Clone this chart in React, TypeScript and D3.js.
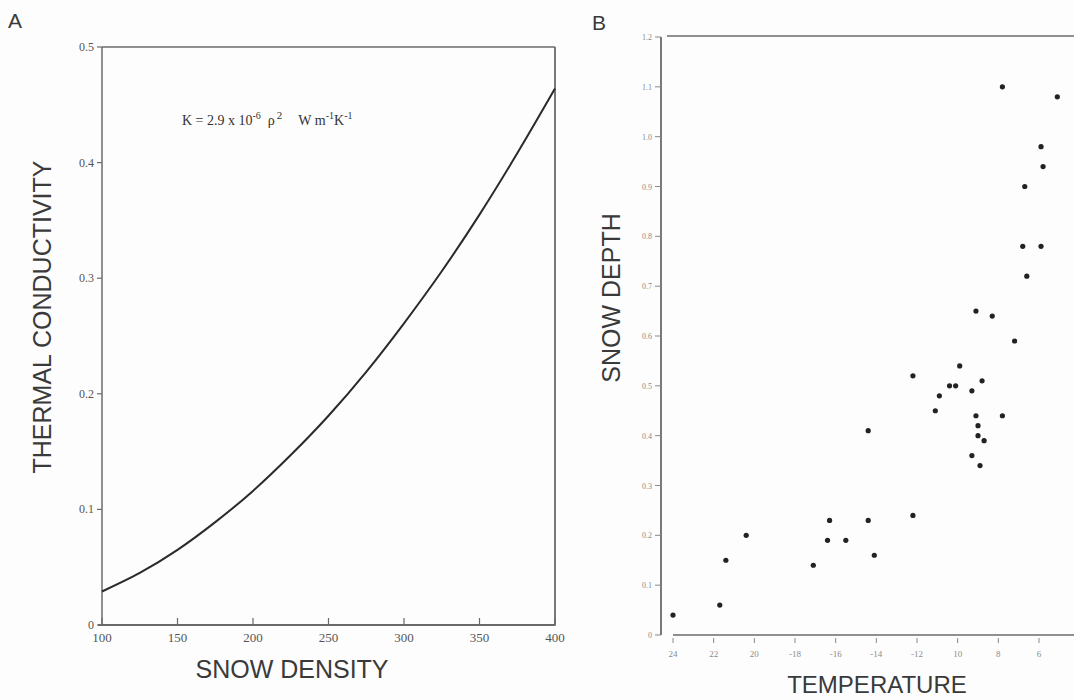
import React from 'react';
import * as d3 from 'd3';

// Panel A: thermal conductivity vs snow density
const densityValues = [100, 125, 150, 175, 200, 225, 250, 275, 300, 325, 350, 375, 400];
const conductivityValues = [0.029, 0.045, 0.065, 0.089, 0.116, 0.147, 0.181, 0.219, 0.261, 0.306, 0.355, 0.408, 0.464];
const densityTicks = [100, 150, 200, 250, 300, 350, 400];
const densityTickLabels = ['100', '150', '200', '250', '300', '350', '400'];
const conductivityTicks = [0, 0.1, 0.2, 0.3, 0.4, 0.5];
const conductivityTickLabels = ['0', '0.1', '0.2', '0.3', '0.4', '0.5'];

// Panel B: snow depth vs temperature
const temperatures = [
  -7.8, -5.1, -5.9, -5.8, -6.7, -6.8, -5.9, -6.6, -9.1, -8.3,
  -7.2, -9.9, -12.2, -10.4, -10.1, -8.8, -9.3, -10.9, -11.1, -9.1,
  -7.8, -9.0, -9.0, -8.7, -14.4, -9.3, -8.9, -24.0, -21.7, -21.4,
  -20.4, -17.1, -16.4, -16.3, -15.5, -14.4, -14.1, -12.2,
];
const depths = [
  1.10, 1.08, 0.98, 0.94, 0.90, 0.78, 0.78, 0.72, 0.65, 0.64,
  0.59, 0.54, 0.52, 0.50, 0.50, 0.51, 0.49, 0.48, 0.45, 0.44,
  0.44, 0.42, 0.40, 0.39, 0.41, 0.36, 0.34, 0.04, 0.06, 0.15,
  0.20, 0.14, 0.19, 0.23, 0.19, 0.23, 0.16, 0.24,
];
const temperatureTicks = [-24, -22, -20, -18, -16, -14, -12, -10, -8, -6];
const temperatureTickLabels = ['24', '22', '20', '-18', '-16', '-14', '-12', '10', '8', '6'];
const depthTicks = [0, 0.1, 0.2, 0.3, 0.4, 0.5, 0.6, 0.7, 0.8, 0.9, 1.0, 1.1, 1.2];
const depthTickLabels = ['0', '0.1', '0.2', '0.3', '0.4', '0.5', '0.6', '0.7', '0.8', '0.9', '1.0', '1.1', '1.2'];

const SANS = '"Liberation Sans", Arial, sans-serif';
const SERIF = '"Liberation Serif", "Times New Roman", serif';

export default function App() {
  const xA = d3.scaleLinear().domain([100, 400]).range([102, 555]);
  const yA = d3.scaleLinear().domain([0, 0.5]).range([625, 47]);
  const xB = d3.scaleLinear().domain([-24, -6]).range([673, 1039]);
  const yB = d3.scaleLinear().domain([0, 1.2]).range([635, 37]);

  const curve = d3
    .line<number>()
    .x((_, i) => xA(densityValues[i]))
    .y((d) => yA(d))
    .curve(d3.curveMonotoneX)(conductivityValues) || '';

  const frame = '#6a6a6a';
  const labelColor = '#3a3a3a';

  return (
    <svg
      width={1074}
      height={700}
      style={{ position: 'absolute', left: 0, top: 0, background: '#fdfdfd' }}
    >
      <rect x={0} y={0} width={1074} height={700} fill="#fdfdfd" />

      {/* ---------- Panel A ---------- */}
      <text x={8} y={28} fontFamily={SANS} fontSize={21} fill={labelColor}>A</text>

      <line x1={xA(100)} x2={xA(400)} y1={yA(0.5)} y2={yA(0.5)} stroke={frame} strokeWidth={1.5} />
      <line x1={xA(400)} x2={xA(400)} y1={yA(0.5)} y2={yA(0)} stroke={frame} strokeWidth={1.8} />
      <line x1={xA(100)} x2={xA(100)} y1={yA(0.5)} y2={yA(0)} stroke={frame} strokeWidth={1.5} />
      <line x1={xA(100) - 4} x2={xA(400)} y1={yA(0)} y2={yA(0)} stroke={frame} strokeWidth={1.8} />

      {conductivityTicks.map((t, i) => (
        <g key={'ya' + i}>
          <line x1={xA(100) - 5} x2={xA(100)} y1={yA(t)} y2={yA(t)} stroke={frame} strokeWidth={1.2} />
          <text
            x={xA(100) - 8}
            y={yA(t) + 4}
            textAnchor="end"
            fontFamily={SERIF}
            fontSize={12}
            fill="#555"
          >
            {conductivityTickLabels[i]}
          </text>
        </g>
      ))}
      {densityTicks.map((t, i) => (
        <g key={'xa' + i}>
          <line x1={xA(t)} x2={xA(t)} y1={yA(0) - 7} y2={yA(0) + 1} stroke={frame} strokeWidth={1.2} />
          <text
            x={xA(t)}
            y={yA(0) + 17}
            textAnchor="middle"
            fontFamily={SERIF}
            fontSize={13}
            fill="#555"
          >
            {densityTickLabels[i]}
          </text>
        </g>
      ))}

      <path d={curve} fill="none" stroke="#2a2a2a" strokeWidth={2} />

      <text x={182} y={125} fontFamily={SERIF} fontSize={14} fill="#333">
        K = 2.9 x 10
        <tspan dy={-6} fontSize={10}>-6</tspan>
        <tspan dy={6} dx={7}>ρ</tspan>
        <tspan dy={-6} fontSize={11} dx={2}>2</tspan>
        <tspan dy={6} dx={16}>W m</tspan>
        <tspan dy={-6} fontSize={10}>-1</tspan>
        <tspan dy={6}>K</tspan>
        <tspan dy={-6} fontSize={10}>-1</tspan>
      </text>

      <text
        transform={`translate(51, 317) rotate(-90)`}
        textAnchor="middle"
        fontFamily={SANS}
        fontSize={25}
        fill={labelColor}
      >
        THERMAL CONDUCTIVITY
      </text>
      <text x={292} y={678} textAnchor="middle" fontFamily={SANS} fontSize={25} fill={labelColor}>
        SNOW DENSITY
      </text>

      {/* ---------- Panel B ---------- */}
      <text x={592} y={30} fontFamily={SANS} fontSize={21} fill={labelColor}>B</text>

      <line x1={667} x2={1074} y1={yB(1.2) - 1} y2={yB(1.2) - 1} stroke={frame} strokeWidth={1.5} />
      <line x1={661} x2={661} y1={yB(1.2)} y2={yB(0)} stroke={frame} strokeWidth={1.8} />
      <line x1={xB(-24)} x2={1074} y1={yB(0)} y2={yB(0)} stroke={frame} strokeWidth={1.6} />

      {depthTicks.map((t, i) => (
        <g key={'yb' + i}>
          <line x1={655} x2={661} y1={yB(t)} y2={yB(t)} stroke="#888" strokeWidth={1} />
          <text
            x={652}
            y={yB(t) + 3}
            textAnchor="end"
            fontFamily={SERIF}
            fontSize={8}
            fill="#8a8a8a"
          >
            {depthTickLabels[i]}
          </text>
        </g>
      ))}
      {temperatureTicks.map((t, i) => (
        <g key={'xb' + i}>
          <line x1={xB(t)} x2={xB(t)} y1={yB(0) + 3} y2={yB(0) + 8} stroke="#888" strokeWidth={1} />
          <text
            x={xB(t)}
            y={yB(0) + 22}
            textAnchor="middle"
            fontFamily={SERIF}
            fontSize={9}
            fill="#8a8a8a"
          >
            {temperatureTickLabels[i]}
          </text>
        </g>
      ))}

      {temperatures.map((t, i) => (
        <circle key={'p' + i} cx={xB(t)} cy={yB(depths[i])} r={2.6} fill="#222" />
      ))}

      <text
        transform={`translate(620, 298) rotate(-90)`}
        textAnchor="middle"
        fontFamily={SANS}
        fontSize={25}
        fill={labelColor}
      >
        SNOW DEPTH
      </text>
      <text x={877} y={693} textAnchor="middle" fontFamily={SANS} fontSize={24} fill={labelColor}>
        TEMPERATURE
      </text>
    </svg>
  );
}
